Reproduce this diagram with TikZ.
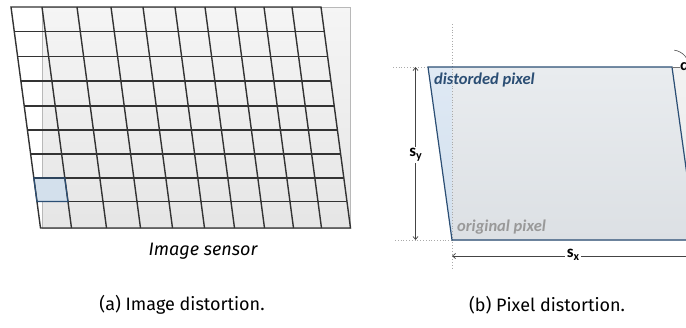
\documentclass[tikz,border=0pt]{standalone}
\usepackage[T1]{fontenc}
\usepackage{fontspec}
\usetikzlibrary{arrows.meta}
\newfontfamily\calibri{Carlito}
\IfFileExists{t1iwonalc.fd}
  {\newcommand\capfont{\usefont{T1}{iwonalc}{m}{n}}}
  {\newfontfamily\capfont{Fira Sans}}
\definecolor{gridcol}{HTML}{333333}
\definecolor{pixblue}{HTML}{2B4E74}
\definecolor{cellblue}{HTML}{D3E0EC}
\definecolor{guide}{HTML}{AAAAAA}
\definecolor{dimcol}{HTML}{444444}
\tikzset{
  gridline/.style={draw=gridcol, line width=1.4pt},
  guideline/.style={draw=guide, line width=0.8pt, dotted},
  dimline/.style={draw=dimcol, line width=0.7pt},
  pixborder/.style={draw=pixblue, line width=1.2pt, line join=miter},
  dimlabel/.style={font=\calibri\bfseries\fontsize{17}{20}\selectfont, fill=white, inner sep=1.5pt},
  pixlabel/.style={font=\calibri\bfseries\itshape\fontsize{16.5}{19}\selectfont, inner sep=0pt, anchor=west},
  caption/.style={font=\capfont\fontsize{18}{22}\selectfont, inner sep=0pt},
}
\begin{document}
\begin{tikzpicture}[x=1pt, y=-1pt]
\clip (0,0) rectangle (686,327);
\useasboundingbox (0,0) rectangle (686,327);

% --- sensor: background plate, sheared grid, one marked pixel ---
\shade[top color=black!4, bottom color=black!10] (42,7.5) rectangle (350.5,228);
\draw[black!28, line width=0.8pt] (42,7.5) rectangle (350.5,228);
\begin{scope}[shift={(11,7)}, xslant=-0.1335]
  \fill[cellblue] (0,171) rectangle (31,194.5);
  \foreach \c in {31,66,100,132,164,194,224,253,281}
    \draw[gridline] (\c,0) -- (\c,221);
  \foreach \r in {24.5,49.5,74,99,123,147,171,194.5}
    \draw[gridline] (0,\r) -- (310,\r);
  \draw[gridline] (0,0) rectangle (310,221);
  \draw[pixborder] (0,171) rectangle (31,194.5);
\end{scope}
\node[font=\capfont\itshape\fontsize{18}{22}\selectfont, inner sep=0pt] (sensor) at (203,251) {Image sensor};

% --- single pixel: original square and sheared pixel ---
\coordinate (A) at (428,67);
\coordinate (B) at (672,67);
\coordinate (C) at (696,240);
\coordinate (D) at (452,240);
\coordinate (E) at (452,67);
\coordinate (F) at (700,240);
\shade[top color=black!5, bottom color=black!9] (E) rectangle (F);
\shade[top color={rgb,255:red,233;green,236;blue,239}, bottom color={rgb,255:red,220;green,224;blue,228}] (A) -- (B) -- (C) -- (D) -- cycle;
\shade[top color={rgb,255:red,223;green,233;blue,244}, bottom color={rgb,255:red,210;green,224;blue,238}] (A) -- (E) -- (D) -- cycle;

% guide lines
\coordinate (vtop) at (452,24);
\coordinate (vbot) at (452,268);
\coordinate (htop) at (393,67);
\coordinate (hbot) at (395,240);
\draw[guideline] (vtop) -- (vbot);
\draw[guideline] (htop) -- (A);
\draw[guideline] (hbot) -- (D);

\draw[pixborder] (A) -- (B) -- (C) -- (D) -- cycle;

% shear angle
\coordinate (aref) at (680,67);
\draw[black!55, line width=0.6pt] (B) -- (aref);
\draw[black!70, line width=0.6pt] ([shift={(-82.3:17)}]B) arc[start angle=-82.3, end angle=0, radius=17];
\node[font=\calibri\bfseries\fontsize{16}{18}\selectfont, anchor=west, inner sep=0pt] (alpha) at (aref) {α};

% dimensions
\coordinate (syt) at (415.5,67);
\coordinate (syb) at (415.5,240);
\coordinate (sxl) at (452,256);
\coordinate (sxr) at (720,256);
\draw[dimline, {Straight Barb[length=3pt,width=5pt]}-{Straight Barb[length=3pt,width=5pt]}] (syt) -- (syb);
\draw[dimline, {Straight Barb[length=3pt,width=5pt]}-] (sxl) -- (sxr);
\node[dimlabel] (sy) at (415.5,155) {s\raisebox{-0.35ex}{\fontsize{12}{13}\selectfont y}};
\node[dimlabel] (sx) at (573,255) {s\raisebox{-0.35ex}{\fontsize{12}{13}\selectfont x}};

\node[pixlabel, text=pixblue] (dist) at (434,80) {distorded pixel};
\node[pixlabel, text=black!40] (orig) at (457,227) {original pixel};

% --- sub-captions ---
\node[caption] (capa) at (182,305) {(a) Image distortion.};
\node[caption] (capb) at (547,305) {(b) Pixel distortion.};
\end{tikzpicture}
\end{document}
